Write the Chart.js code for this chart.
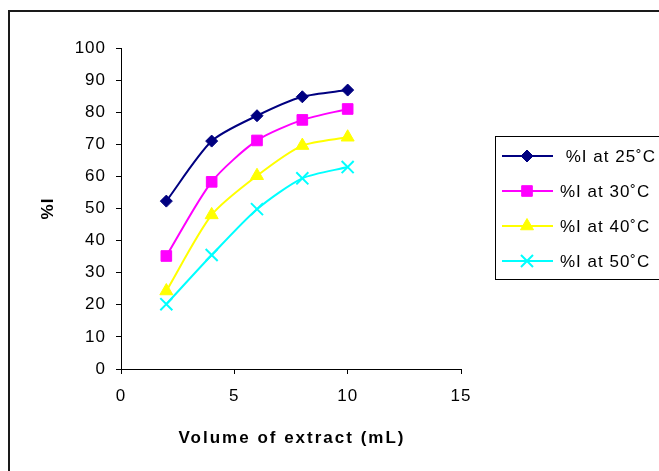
<!DOCTYPE html>
<html>
<head>
<meta charset="utf-8">
<script src="https://cdn.jsdelivr.net/npm/chart.js@4"></script>
<style>
  html, body { margin: 0; padding: 0; background: #fff; }
  #wrap { position: relative; width: 659px; height: 471px; }
</style>
</head>
<body>
<div id="wrap"><canvas id="c" width="659" height="471"></canvas></div>
<script>
const volumes = [2, 4, 6, 8, 10];
const inh25 = [52.3, 71.0, 78.9, 84.8, 86.9];
const inh30 = [35.2, 58.3, 71.2, 77.6, 81.0];
const inh40 = [24.3, 48.0, 60.2, 69.6, 72.2];
const inh50 = [20.2, 35.5, 49.8, 59.4, 62.9];
const seriesLabels = [' %I at 25\u02DAC', '%I at 30\u02DAC', '%I at 40\u02DAC', '%I at 50\u02DAC'];
const xTicks = [0, 5, 10, 15];
const yTicks = [0, 10, 20, 30, 40, 50, 60, 70, 80, 90, 100];
const xTitle = 'Volume of extract (mL)';
const yTitle = '%I';

const FONT = 'Liberation Sans, Arial, sans-serif';

function pts(vals) { return volumes.map((v, i) => ({ x: v, y: vals[i] })); }

const styles = [
  { color: '#000080', style: 'rectRot', radius: 6 },
  { color: '#FF00FF', style: 'rect', radius: 7.5 },
  { color: '#FFFF00', style: 'triangle', radius: 7.5 },
  { color: '#00FFFF', style: 'crossRot', radius: 8.5 }
];
const allVals = [inh25, inh30, inh40, inh50];

const datasets = allVals.map((vals, i) => ({
  label: seriesLabels[i],
  data: pts(vals),
  borderColor: styles[i].color,
  backgroundColor: styles[i].color,
  pointBackgroundColor: styles[i].color,
  pointBorderColor: styles[i].color,
  pointStyle: styles[i].style,
  pointRadius: styles[i].radius,
  pointBorderWidth: styles[i].style === 'crossRot' ? 2 : 1,
  borderWidth: 2,
  tension: 0.25,
  fill: false
}));

const frame = {
  id: 'frame',
  beforeDraw(chart) {
    const ctx = chart.ctx;
    ctx.fillStyle = '#fff';
    ctx.fillRect(0, 0, chart.width, chart.height);
    ctx.strokeStyle = '#1a1a1a';
    ctx.lineWidth = 2;
    ctx.strokeRect(9, 11, 700, 520);
    ctx.letterSpacing = '1px';
  }
};

const boxLegend = {
  id: 'boxLegend',
  afterDraw(chart) {
    const ctx = chart.ctx;
    ctx.save();
    // x axis title
    const xs = chart.scales.x;
    ctx.font = 'bold 17px ' + FONT;
    ctx.letterSpacing = '2px';
    ctx.fillStyle = '#000';
    ctx.textAlign = 'center';
    ctx.textBaseline = 'middle';
    ctx.fillText(xTitle, (xs.left + xs.right) / 2 + 1, 438);

    ctx.letterSpacing = '1px';
    ctx.strokeStyle = '#000';
    ctx.lineWidth = 1;
    ctx.strokeRect(495.5, 136.5, 300, 143);
    const rowY = [156, 191, 226, 261];
    ctx.font = '17px ' + FONT;
    ctx.textBaseline = 'middle';
    ctx.textAlign = 'left';
    chart.data.datasets.forEach((ds, i) => {
      const y = rowY[i];
      ctx.strokeStyle = ds.borderColor;
      ctx.lineWidth = 2;
      ctx.beginPath();
      ctx.moveTo(502, y);
      ctx.lineTo(553, y);
      ctx.stroke();
      ctx.fillStyle = ds.pointBackgroundColor;
      ctx.strokeStyle = ds.pointBorderColor;
      ctx.lineWidth = ds.pointBorderWidth;
      Chart.helpers.drawPoint(ctx, { pointStyle: ds.pointStyle, radius: ds.pointRadius, borderWidth: ds.pointBorderWidth, rotation: 0 }, 527, y);
      ctx.fillStyle = '#000';
      ctx.fillText(ds.label, 560, y + 1);
    });
    ctx.restore();
  }
};

new Chart(document.getElementById('c'), {
  type: 'line',
  data: { datasets },
  plugins: [frame, boxLegend],
  options: {
    responsive: false,
    animation: false,
    layout: { padding: { left: 0, top: 48, right: 198, bottom: 0 } },
    plugins: { legend: { display: false }, tooltip: { enabled: false } },
    scales: {
      x: {
        type: 'linear',
        min: 0, max: 15,
        afterBuildTicks(scale) { scale.ticks = xTicks.map(v => ({ value: v })); },
        afterFit(scale) { scale.height = 102; },
        ticks: { color: '#000', font: { family: FONT, size: 17 }, padding: 12, maxRotation: 0 },
        grid: { display: true, drawOnChartArea: false, drawTicks: true, tickLength: 5, color: '#000' },
        border: { display: true, color: '#000', width: 1 },
        title: { display: false }
      },
      y: {
        type: 'linear',
        min: 0, max: 100,
        afterBuildTicks(scale) { scale.ticks = yTicks.map(v => ({ value: v })); },
        afterFit(scale) { scale.width = 121; },
        ticks: { color: '#000', font: { family: FONT, size: 17 }, padding: 10 },
        grid: { display: true, drawOnChartArea: false, drawTicks: true, tickLength: 5, color: '#000' },
        border: { display: true, color: '#000', width: 1 },
        title: { display: true, text: yTitle, color: '#000', font: { family: FONT, size: 17, weight: 'bold' }, padding: { top: 38, bottom: 0 } }
      }
    }
  }
});
</script>
</body>
</html>
